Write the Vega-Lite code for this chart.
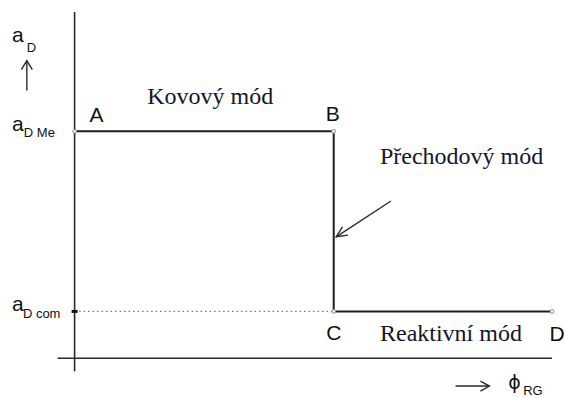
{
  "$schema": "https://vega.github.io/schema/vega-lite/v6.json",
  "width": 565,
  "height": 398,
  "padding": 0,
  "autosize": {"type": "fit", "contains": "padding"},
  "background": "white",
  "config": {"view": {"stroke": null}},
  "datasets": {
    "axes": [
      {"x": 0, "x2": 0, "y": -60, "y2": 301},
      {"x": -17, "x2": 480, "y": -47, "y2": -47}
    ],
    "curve": [
      {"pt": "A", "ord": 1, "x": 0, "y": 181},
      {"pt": "B", "ord": 2, "x": 260.5, "y": 181},
      {"pt": "C", "ord": 3, "x": 260.5, "y": 0},
      {"pt": "D", "ord": 4, "x": 480, "y": 0}
    ],
    "dotted": [{"x": 0, "x2": 260, "y": 0, "y2": 0}],
    "tick": [{"x": -3, "x2": 3, "y": 0, "y2": 0}],
    "arrows": [
      {"seg": "p1", "ord": 1, "x": 318, "y": 111},
      {"seg": "p1", "ord": 2, "x": 263, "y": 75},
      {"seg": "p2", "ord": 1, "x": 274.9, "y": 76.7},
      {"seg": "p2", "ord": 2, "x": 263, "y": 75},
      {"seg": "p2", "ord": 3, "x": 269.3, "y": 84.9},
      {"seg": "u1", "ord": 1, "x": -48, "y": 222},
      {"seg": "u1", "ord": 2, "x": -48, "y": 252},
      {"seg": "u2", "ord": 1, "x": -53.5, "y": 243},
      {"seg": "u2", "ord": 2, "x": -48, "y": 252},
      {"seg": "u2", "ord": 3, "x": -42.5, "y": 243},
      {"seg": "r1", "ord": 1, "x": 383, "y": -75},
      {"seg": "r1", "ord": 2, "x": 417, "y": -75},
      {"seg": "r2", "ord": 1, "x": 408, "y": -70},
      {"seg": "r2", "ord": 2, "x": 417, "y": -75},
      {"seg": "r2", "ord": 3, "x": 408, "y": -80}
    ],
    "letters": [
      {"x": 22, "y": 190, "label": "A"},
      {"x": 259.5, "y": 191, "label": "B"},
      {"x": 260.5, "y": -29, "label": "C"},
      {"x": 485, "y": -30, "label": "D"}
    ],
    "mainsym": [
      {"x": -63, "y": 271, "label": "a"},
      {"x": -63, "y": 181, "label": "a"},
      {"x": -63, "y": 0, "label": "a"}
    ],
    "phi": [
      {"x": 436, "y": -78, "label": "ϕ"}
    ],
    "subs": [
      {"x": -48, "y": 261, "label": "D"},
      {"x": -51, "y": 175, "label": "D Me"},
      {"x": -52, "y": -7, "label": "D com"},
      {"x": 451, "y": -84, "label": "RG"}
    ],
    "modes": [
      {"x": 73, "y": 208, "label": "Kovový mód"},
      {"x": 307, "y": 148, "label": "Přechodový mód"},
      {"x": 307, "y": -30, "label": "Reaktivní mód"}
    ]
  },
  "layer": [
    {
      "data": {"name": "axes"},
      "mark": {"type": "rule", "color": "#2a2a2a", "strokeWidth": 1.6},
      "encoding": {
        "x": {"field": "x", "type": "quantitative", "scale": {"domain": [-75, 490], "nice": false, "zero": false}, "axis": null},
        "x2": {"field": "x2"},
        "y": {"field": "y", "type": "quantitative", "scale": {"domain": [-85, 313], "nice": false, "zero": false}, "axis": null},
        "y2": {"field": "y2"}
      }
    },
    {
      "data": {"name": "dotted"},
      "mark": {"type": "rule", "color": "#777777", "strokeWidth": 1.2, "strokeDash": [1.5, 3]},
      "encoding": {
        "x": {"field": "x", "type": "quantitative", "scale": {"domain": [-75, 490], "nice": false, "zero": false}, "axis": null},
        "x2": {"field": "x2"},
        "y": {"field": "y", "type": "quantitative", "scale": {"domain": [-85, 313], "nice": false, "zero": false}, "axis": null},
        "y2": {"field": "y2"}
      }
    },
    {
      "data": {"name": "tick"},
      "mark": {"type": "rule", "color": "#111111", "strokeWidth": 3},
      "encoding": {
        "x": {"field": "x", "type": "quantitative", "scale": {"domain": [-75, 490], "nice": false, "zero": false}, "axis": null},
        "x2": {"field": "x2"},
        "y": {"field": "y", "type": "quantitative", "scale": {"domain": [-85, 313], "nice": false, "zero": false}, "axis": null},
        "y2": {"field": "y2"}
      }
    },
    {
      "data": {"name": "curve"},
      "mark": {"type": "line", "color": "#1e1e1e", "strokeWidth": 2},
      "encoding": {
        "x": {"field": "x", "type": "quantitative", "scale": {"domain": [-75, 490], "nice": false, "zero": false}, "axis": null},
        "y": {"field": "y", "type": "quantitative", "scale": {"domain": [-85, 313], "nice": false, "zero": false}, "axis": null},
        "order": {"field": "ord"}
      }
    },
    {
      "data": {"name": "curve"},
      "mark": {"type": "point", "filled": true, "fill": "white", "stroke": "#888888", "strokeWidth": 1, "size": 14, "opacity": 1},
      "encoding": {
        "x": {"field": "x", "type": "quantitative", "scale": {"domain": [-75, 490], "nice": false, "zero": false}, "axis": null},
        "y": {"field": "y", "type": "quantitative", "scale": {"domain": [-85, 313], "nice": false, "zero": false}, "axis": null}
      }
    },
    {
      "data": {"name": "arrows"},
      "mark": {"type": "line", "color": "#2a2a2a", "strokeWidth": 1.4},
      "encoding": {
        "x": {"field": "x", "type": "quantitative", "scale": {"domain": [-75, 490], "nice": false, "zero": false}, "axis": null},
        "y": {"field": "y", "type": "quantitative", "scale": {"domain": [-85, 313], "nice": false, "zero": false}, "axis": null},
        "detail": {"field": "seg"},
        "order": {"field": "ord"}
      }
    },
    {
      "data": {"name": "letters"},
      "mark": {"type": "text", "font": "Liberation Sans", "fontSize": 21, "align": "center", "baseline": "alphabetic", "color": "#111111"},
      "encoding": {
        "x": {"field": "x", "type": "quantitative", "scale": {"domain": [-75, 490], "nice": false, "zero": false}, "axis": null},
        "y": {"field": "y", "type": "quantitative", "scale": {"domain": [-85, 313], "nice": false, "zero": false}, "axis": null},
        "text": {"field": "label"}
      }
    },
    {
      "data": {"name": "mainsym"},
      "mark": {"type": "text", "font": "Liberation Sans", "fontSize": 21, "align": "left", "baseline": "alphabetic", "color": "#111111"},
      "encoding": {
        "x": {"field": "x", "type": "quantitative", "scale": {"domain": [-75, 490], "nice": false, "zero": false}, "axis": null},
        "y": {"field": "y", "type": "quantitative", "scale": {"domain": [-85, 313], "nice": false, "zero": false}, "axis": null},
        "text": {"field": "label"}
      }
    },
    {
      "data": {"name": "phi"},
      "mark": {"type": "text", "font": "DejaVu Sans", "fontSize": 19, "align": "left", "baseline": "alphabetic", "color": "#111111"},
      "encoding": {
        "x": {"field": "x", "type": "quantitative", "scale": {"domain": [-75, 490], "nice": false, "zero": false}, "axis": null},
        "y": {"field": "y", "type": "quantitative", "scale": {"domain": [-85, 313], "nice": false, "zero": false}, "axis": null},
        "text": {"field": "label"}
      }
    },
    {
      "data": {"name": "subs"},
      "mark": {"type": "text", "font": "Liberation Sans", "fontSize": 13, "align": "left", "baseline": "alphabetic", "color": "#111111"},
      "encoding": {
        "x": {"field": "x", "type": "quantitative", "scale": {"domain": [-75, 490], "nice": false, "zero": false}, "axis": null},
        "y": {"field": "y", "type": "quantitative", "scale": {"domain": [-85, 313], "nice": false, "zero": false}, "axis": null},
        "text": {"field": "label"}
      }
    },
    {
      "data": {"name": "modes"},
      "mark": {"type": "text", "font": "Liberation Serif", "fontSize": 24, "align": "left", "baseline": "alphabetic", "color": "#15152a"},
      "encoding": {
        "x": {"field": "x", "type": "quantitative", "scale": {"domain": [-75, 490], "nice": false, "zero": false}, "axis": null},
        "y": {"field": "y", "type": "quantitative", "scale": {"domain": [-85, 313], "nice": false, "zero": false}, "axis": null},
        "text": {"field": "label"}
      }
    }
  ]
}
